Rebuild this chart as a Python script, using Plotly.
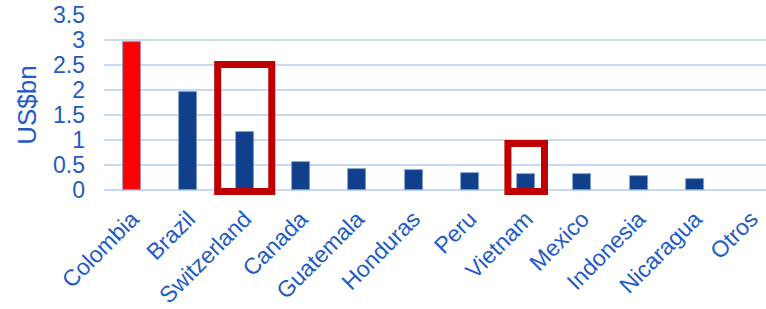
import plotly.graph_objects as go

countries = ["Colombia", "Brazil", "Switzerland", "Canada", "Guatemala", "Honduras",
             "Peru", "Vietnam", "Mexico", "Indonesia", "Nicaragua", "Otros"]
values = [2.96, 1.96, 1.16, 0.57, 0.42, 0.41, 0.35, 0.33, 0.33, 0.28, 0.22, 0.0]
highlight_country = "Colombia"
boxed = ["Switzerland", "Vietnam"]
box_tops = [2.51, 0.93]
box_halfwidths = [0.48, 0.325]

text_blue = "#1F5BC6"
bar_blue = "#10408C"
red = "#FF0000"
box_red = "#C00000"

colors = [red if c == highlight_country else bar_blue for c in countries]
line_w = [0.8 if v > 0 else 0 for v in values]
idx = list(range(len(countries)))

fig = go.Figure()
fig.add_trace(go.Bar(
    x=idx, y=values, width=0.32,
    marker=dict(color=colors, line=dict(color="#7F9FD0", width=line_w)),
    hoverinfo="skip",
))

for name, top, hw in zip(boxed, box_tops, box_halfwidths):
    i = countries.index(name)
    fig.add_shape(type="rect", xref="x", yref="y",
                  x0=i - hw, x1=i + hw, y0=-0.03, y1=top,
                  line=dict(color=box_red, width=7), fillcolor="rgba(0,0,0,0)",
                  layer="above")

fig.update_layout(
    width=766, height=309,
    margin=dict(l=104, r=0, t=15, b=114),
    paper_bgcolor="white", plot_bgcolor="white",
    showlegend=False,
    font=dict(family="Liberation Sans, Arial, sans-serif", color=text_blue),
    bargap=0,
)
fig.update_xaxes(
    range=[-0.5, 11.26], automargin=False,
    tickmode="array", tickvals=idx, ticktext=countries,
    tickangle=-45, tickfont=dict(size=23, color=text_blue),
    ticklabelstandoff=5,
    showgrid=False, showline=False, zeroline=False, ticks="",
)
fig.update_yaxes(
    range=[-0.1, 3.5], tick0=0, dtick=0.5, automargin=False,
    tickfont=dict(size=23, color=text_blue),
    ticklabelstandoff=18,
    showgrid=True, gridcolor="#C6D9F5", gridwidth=2,
    zeroline=False, showline=False, ticks="",
    title=dict(text="US$bn", font=dict(size=26, color=text_blue), standoff=8),
)

fig.write_html("out.html", config={"displayModeBar": False},
               post_script="document.body.style.margin='0px';document.body.style.overflow='hidden';")
